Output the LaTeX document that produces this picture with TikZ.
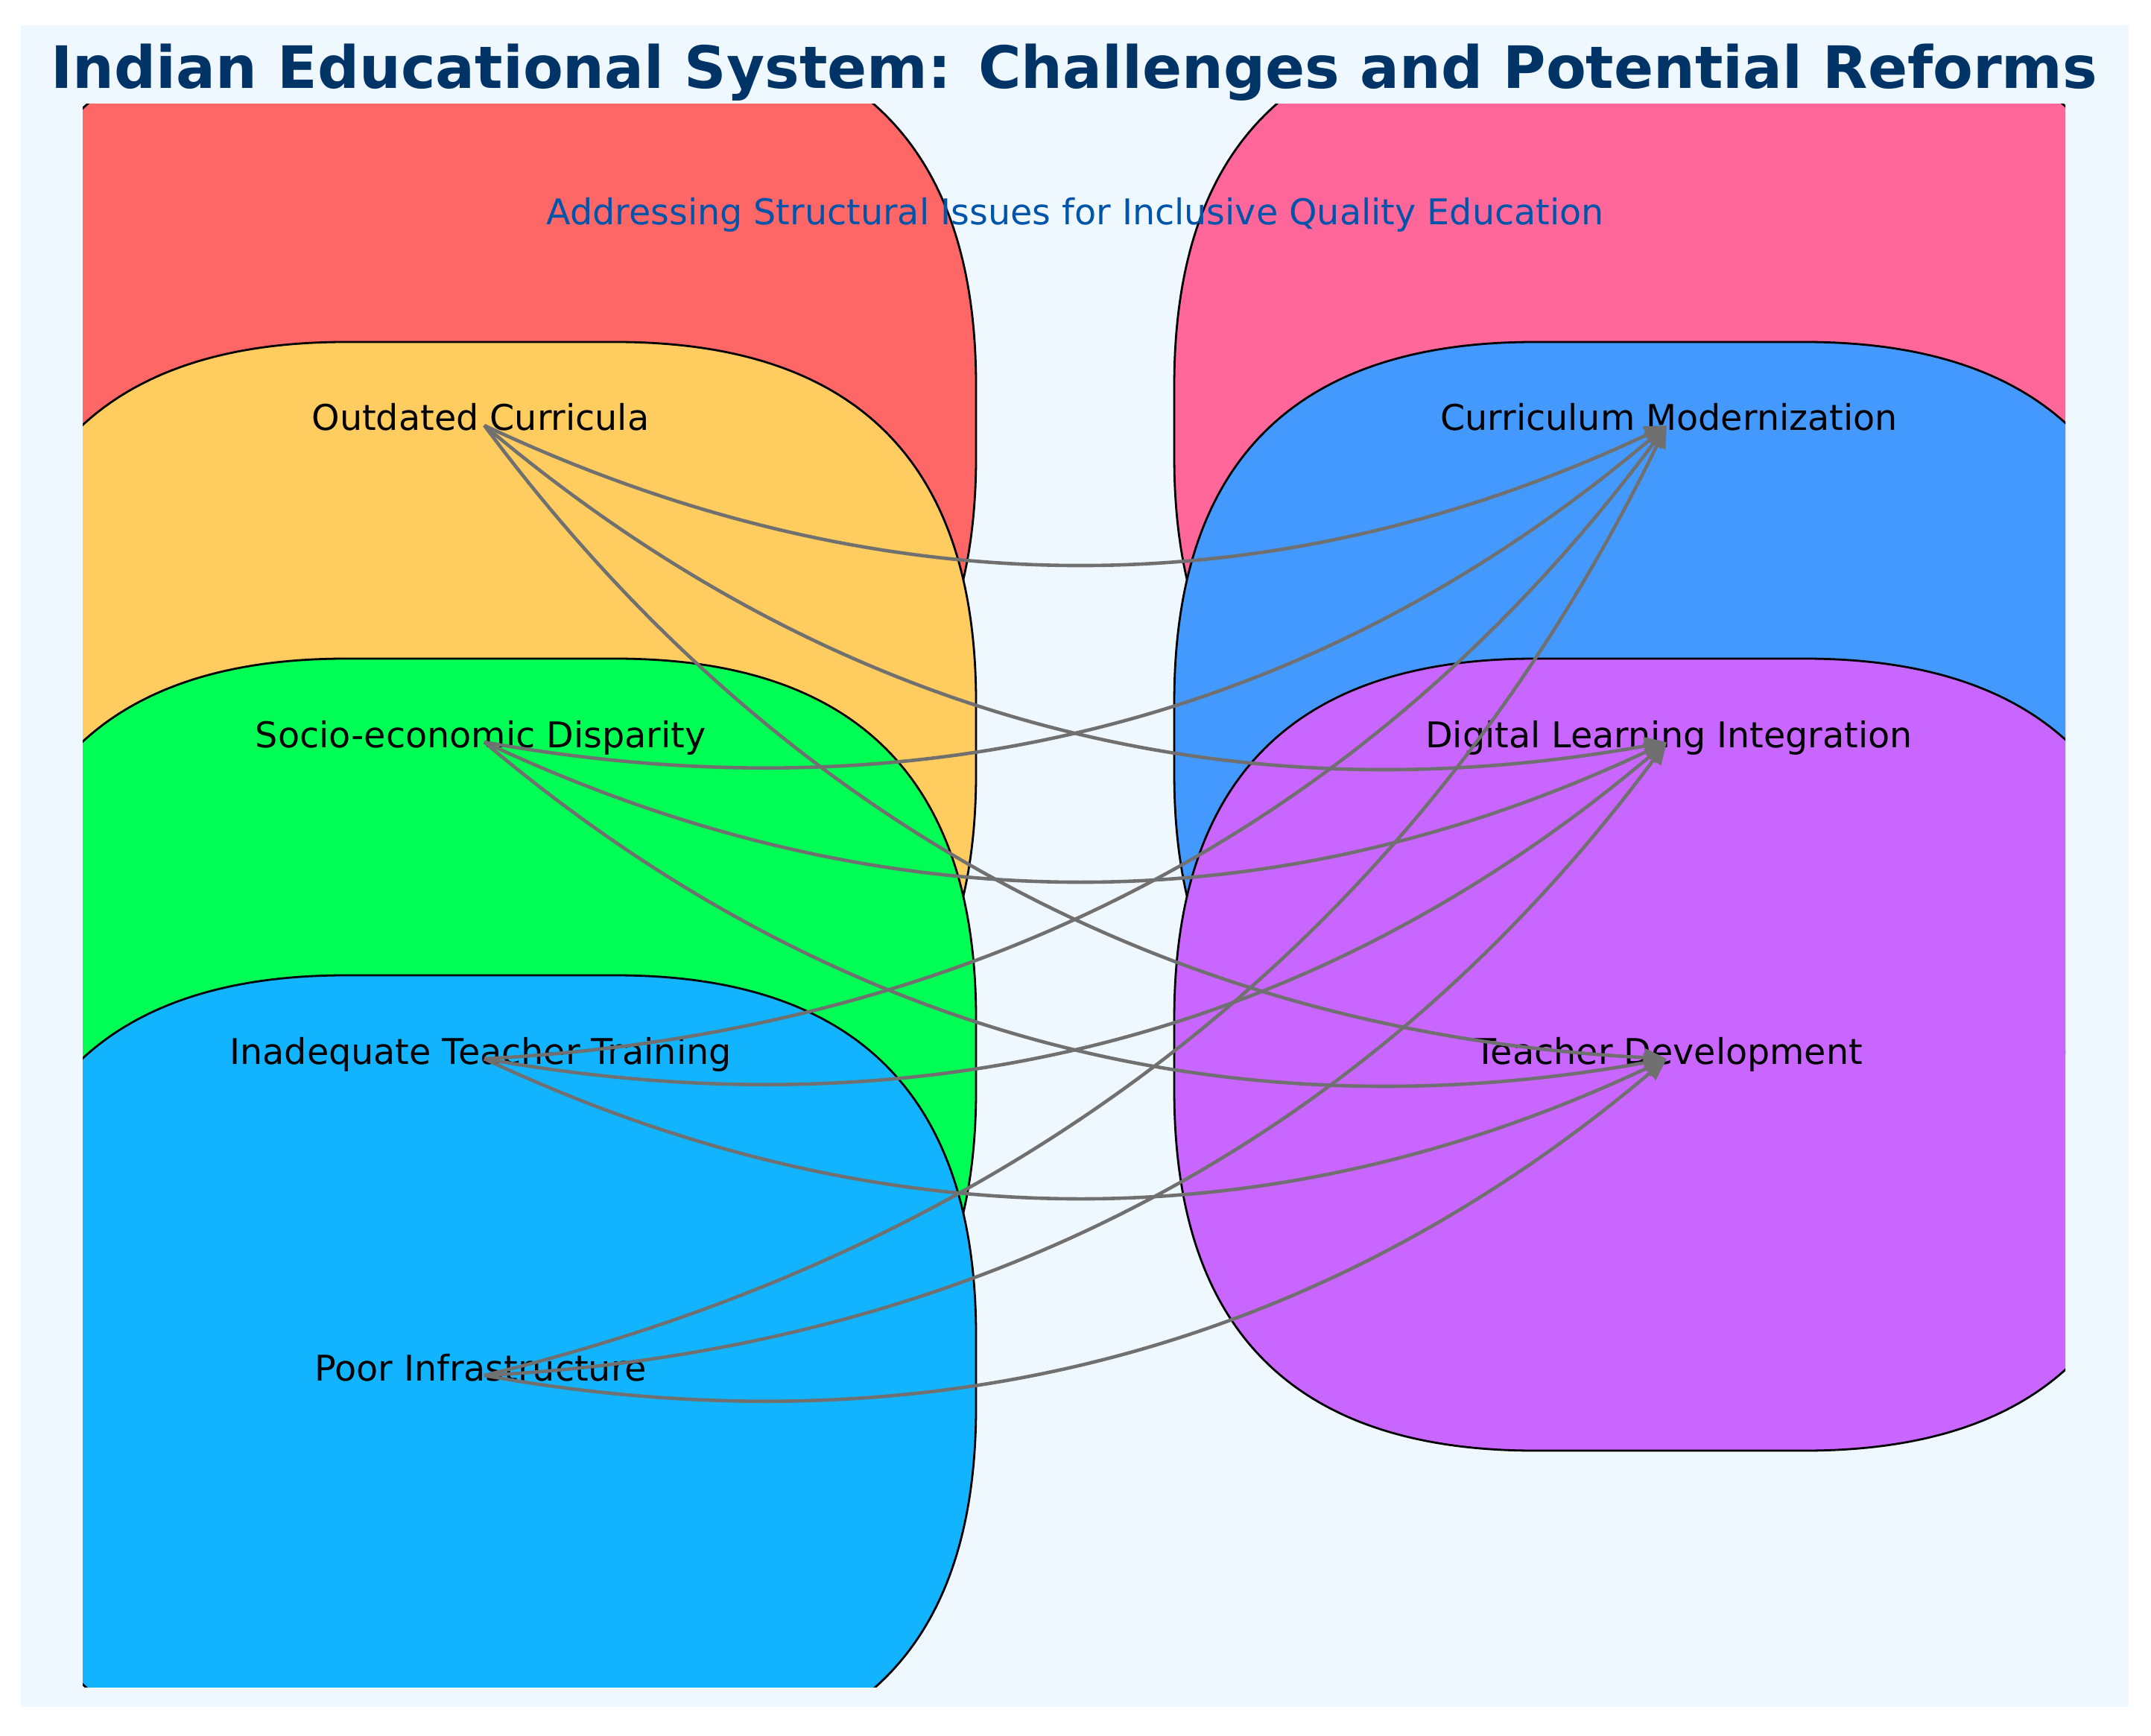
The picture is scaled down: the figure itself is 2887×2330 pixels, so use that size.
\documentclass[tikz,border=0pt]{standalone}
\usepackage{fontspec}
\setmainfont{DejaVu Sans}
\usetikzlibrary{calc,arrows.meta}
\definecolor{bgc}{HTML}{F0F8FF}
\definecolor{cred}{HTML}{FF6666}
\definecolor{cyel}{HTML}{FFCC60}
\definecolor{cgrn}{HTML}{00FF55}
\definecolor{cblu}{HTML}{12B4FF}
\definecolor{cpnk}{HTML}{FF6699}
\definecolor{cbltwo}{HTML}{4499FF}
\definecolor{cprp}{HTML}{C866FF}
\definecolor{edgec}{HTML}{707070}
\definecolor{titlec}{HTML}{003366}
\definecolor{subc}{HTML}{0055AA}
\tikzset{
  boxshape/.style={draw=black, line width=0.7pt, fill=#1},
  lbl/.style={font=\fontsize{11.9}{14}\selectfont, text=black, inner sep=0pt, anchor=base},
  edgeline/.style={draw=edgec, line width=1.15pt, -{Triangle[length=7.5pt,width=6pt]}},
}
\newcommand{\rbox}[3]{%
  \path[boxshape=#3]
   ({#1+484},{#2}) -- ({#1+1330-484},{#2})
   .. controls ({#1+1330-161.3},{#2}) and ({#1+1330},{#2+161.3}) .. ({#1+1330},{#2+484})
   -- ({#1+1330},{#2+1063-484})
   .. controls ({#1+1330},{#2+1063-161.3}) and ({#1+1330-161.3},{#2+1063}) .. ({#1+1330-484},{#2+1063})
   -- ({#1+484},{#2+1063})
   .. controls ({#1+161.3},{#2+1063}) and ({#1},{#2+1063-161.3}) .. ({#1},{#2+1063-484})
   -- ({#1},{#2+484})
   .. controls ({#1},{#2+161.3}) and ({#1+161.3},{#2}) .. cycle;}
\newcommand{\arcedge}[2]{%
  \path ($(#1)!0.5!(#2)$) coordinate (m) ($(m)!0.47!-90:(#2)$) coordinate (q);
  \draw[edgeline] (#1) .. controls ($(#1)!0.6667!(q)$) and ($(#2)!0.6667!(q)$) .. (#2);}
\begin{document}
\begin{tikzpicture}[x=0.25pt,y=-0.25pt]
\useasboundingbox (0,0) rectangle (2887,2330);
\fill[white] (0,0) rectangle (2887,2330);
\fill[bgc] (28,34) rectangle (2857,2291);
\begin{scope}
  \clip (111,140) rectangle (2772,2264);
  \rbox{-20}{34}{cred}
  \rbox{-20}{459}{cyel}
  \rbox{-20}{884}{cgrn}
  \rbox{-20}{1309}{cblu}
  \rbox{1576}{34}{cpnk}
  \rbox{1576}{459}{cbltwo}
  \rbox{1576}{884}{cprp}
\end{scope}
% labels
\node[lbl] (l1) at (645,578) {Outdated Curricula};
\node[lbl] (l2) at (645,1003) {Socio-economic Disparity};
\node[lbl] (l3) at (645,1428) {Inadequate Teacher Training};
\node[lbl] (l4) at (645,1853) {Poor Infrastructure};
\node[lbl] (r1) at (2240,578) {Curriculum Modernization};
\node[lbl] (r2) at (2240,1003) {Digital Learning Integration};
\node[lbl] (r3) at (2240,1428) {Teacher Development};
% edge anchors
\coordinate (a1) at (650,571);
\coordinate (a2) at (650,996);
\coordinate (a3) at (650,1421);
\coordinate (a4) at (650,1846);
\coordinate (b1) at (2237,571);
\coordinate (b2) at (2237,996);
\coordinate (b3) at (2237,1421);
\foreach \s in {a1,a2,a3,a4}{\foreach \t in {b1,b2,b3}{\arcedge{\s}{\t}}}
% titles
\node[font=\fontsize{19.6}{24}\selectfont\bfseries, text=titlec, anchor=base, inner sep=0pt] (title) at (1442,119) {Indian Educational System: Challenges and Potential Reforms};
\node[font=\fontsize{11.9}{14}\selectfont, text=subc, anchor=base, inner sep=0pt] (sub) at (1443,302) {Addressing Structural Issues for Inclusive Quality Education};
\end{tikzpicture}
\end{document}
